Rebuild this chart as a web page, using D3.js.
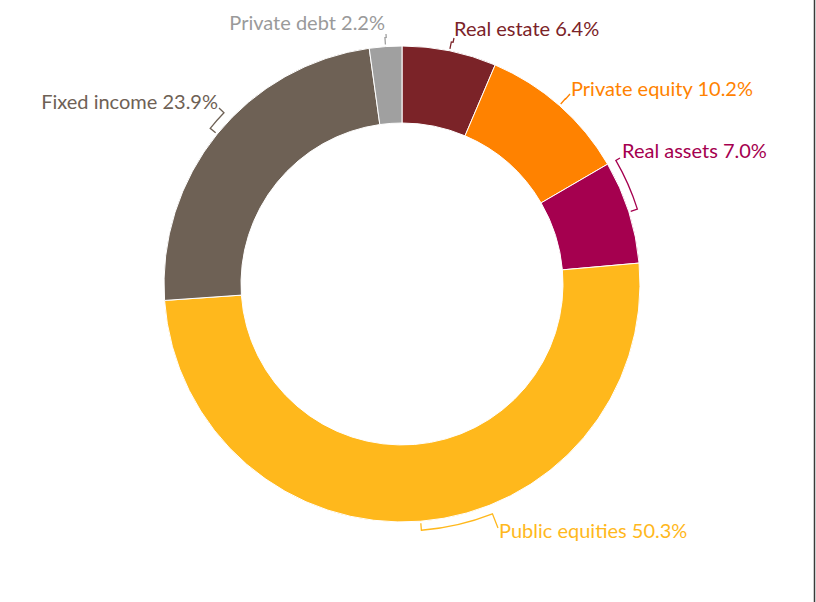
<!DOCTYPE html>
<html>
<head>
<meta charset="utf-8">
<script src="https://cdn.jsdelivr.net/npm/d3@7"></script>
<style>
  body { margin: 0; background: #fff; }
  text { font-family: Lato, "Open Sans", sans-serif; }
</style>
</head>
<body>
<div id="chart"></div>
<script>
// data, in drawing order from 12 o'clock going clockwise
var categories = ["Real estate", "Private equity", "Real assets", "Public equities", "Fixed income", "Private debt"];
var shares = [6.4, 10.2, 7.0, 50.3, 23.9, 2.2];
var sliceColors = ["#7b2328", "#ff8200", "#a5004f", "#ffb81c", "#6e6155", "#a0a0a0"];
var labelColors = ["#7b2328", "#ff8200", "#a5004f", "#ffb81c", "#6e6155", "#9a9a9a"];

// where each label sits (leader end point + text position)
var labelLayout = [
    {ax: 454, ay: 38, tx: 454, ty: 36, anchor: "start"},
    {ax: 570, ay: 94, tx: 571, ty: 96, anchor: "start"},
    {ax: 620, ay: 158, tx: 622, ty: 158, anchor: "start"},
    {ax: 498, ay: 528, tx: 499, ty: 538, anchor: "start"},
    {ax: 219, ay: 108, tx: 218, ty: 109, anchor: "end"},
    {ax: 386, ay: 34, tx: 385, ty: 30, anchor: "end"}
];

var svgWidth = 816, svgHeight = 602;
var cx = 402, cy = 284;
var outerR = 238, innerR = 161, bracketR = 247;

var svg = d3.select("#chart").append("svg")
    .attr("width", svgWidth)
    .attr("height", svgHeight);

var pie = d3.pie().sort(null).value(function(d) { return d; });
var arcs = pie(shares);
var arc = d3.arc().innerRadius(innerR).outerRadius(outerR);

var g = svg.append("g").attr("transform", "translate(" + cx + "," + cy + ")");

g.selectAll("path.slice")
    .data(arcs)
    .enter().append("path")
    .attr("class", "slice")
    .attr("d", arc)
    .attr("fill", function(d, i) { return sliceColors[i]; })
    .attr("stroke", "#fff")
    .attr("stroke-width", 1);

// polar helper, angle measured from 12 o'clock clockwise
function polar(a, r) {
    return [Math.sin(a) * r, -Math.cos(a) * r];
}

// leader: tick at the slice middle, then follow the ring to the label's angle, then to the label
arcs.forEach(function(d, i) {
    var lay = labelLayout[i];
    var mid = (d.startAngle + d.endAngle) / 2;
    var ax = lay.ax - cx, ay = lay.ay - cy;
    var elbow = Math.atan2(ax, -ay);
    if (elbow < 0) elbow += Math.PI * 2;
    var p = d3.path();
    var p0 = polar(mid, outerR + 2);
    var p1 = polar(mid, bracketR);
    p.moveTo(p0[0], p0[1]);
    p.lineTo(p1[0], p1[1]);
    p.arc(0, 0, bracketR, mid - Math.PI / 2, elbow - Math.PI / 2, elbow < mid);
    p.lineTo(ax, ay);
    g.append("path")
        .attr("d", p.toString())
        .attr("fill", "none")
        .attr("stroke", sliceColors[i])
        .attr("stroke-width", 1.3);

    svg.append("text")
        .attr("x", lay.tx)
        .attr("y", lay.ty)
        .attr("text-anchor", lay.anchor)
        .attr("fill", labelColors[i])
        .style("font-size", "20px")
        .text(categories[i] + " " + shares[i].toFixed(1) + "%");
});

// right edge frame line
svg.append("line")
    .attr("x1", 814.5).attr("x2", 814.5)
    .attr("y1", 0).attr("y2", svgHeight)
    .attr("stroke", "#3a3a3a")
    .attr("stroke-width", 1.5);
</script>
</body>
</html>
